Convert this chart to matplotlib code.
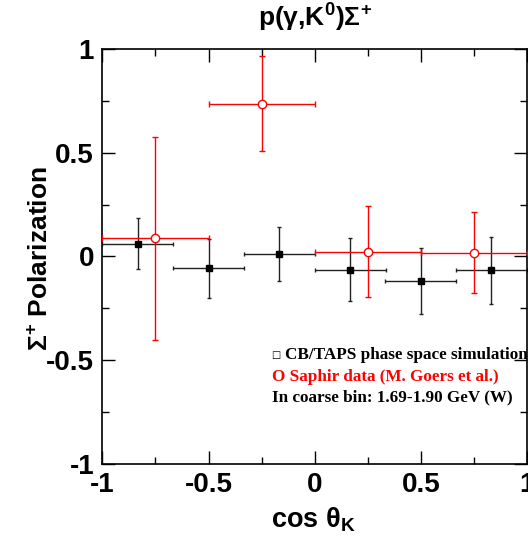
import matplotlib
matplotlib.use("Agg")
import matplotlib.pyplot as plt
from matplotlib.ticker import MultipleLocator, FixedLocator

# -------------------------- Data --------------------------

# CB/TAPS phase space simulation (6 bins)
sim_x = [-0.833, -0.5, -0.167, 0.167, 0.5, 0.833]
sim_xerr = [0.167, 0.167, 0.167, 0.167, 0.167, 0.167]
sim_y = [0.062, -0.057, 0.011, -0.063, -0.118, -0.067]
sim_yerr = [0.123, 0.141, 0.130, 0.150, 0.160, 0.160]

# Saphir data (4 bins)
saphir_x = [-0.75, -0.25, 0.25, 0.75]
saphir_xerr = [0.25, 0.25, 0.25, 0.25]
saphir_y = [0.088, 0.736, 0.023, 0.018]
saphir_yerr = [0.490, 0.230, 0.220, 0.195]

tick_vals = [-1, -0.5, 0, 0.5, 1]
tick_labels = ["-1", "-0.5", "0", "0.5", "1"]

legend_lines = [
    ("CB/TAPS phase space simulation", "black"),
    ("O Saphir data (M. Goers et al.)", "red"),
    ("In coarse bin: 1.69-1.90 GeV (W)", "black"),
]

# -------------------------- Style --------------------------

plt.rcParams["font.family"] = ["Liberation Sans", "DejaVu Sans"]
plt.rcParams["font.weight"] = "bold"
plt.rcParams["mathtext.fontset"] = "custom"
plt.rcParams["mathtext.rm"] = "Liberation Sans:bold"
plt.rcParams["mathtext.it"] = "Liberation Sans:bold"
plt.rcParams["mathtext.bf"] = "Liberation Sans:bold"
plt.rcParams["mathtext.default"] = "regular"

fig = plt.figure(figsize=(5.28, 5.44), dpi=100)
ax = fig.add_axes([0.194, 0.147, 0.804, 0.763])

ax.errorbar(sim_x, sim_y, xerr=sim_xerr, yerr=sim_yerr, fmt="s",
            color="black", ecolor="#222222", elinewidth=1.0, capsize=1.5,
            markersize=4, markerfacecolor="black", zorder=2)
ax.errorbar(saphir_x, saphir_y, xerr=saphir_xerr, yerr=saphir_yerr, fmt="o",
            color="red", ecolor="red", elinewidth=1.0, capsize=2,
            markersize=6, markerfacecolor="white", markeredgecolor="red",
            markeredgewidth=1.0, zorder=3)

ax.set_xlim(-1, 1)
ax.set_ylim(-1, 1)
ax.xaxis.set_major_locator(FixedLocator(tick_vals))
ax.xaxis.set_minor_locator(MultipleLocator(0.25))
ax.yaxis.set_major_locator(FixedLocator(tick_vals))
ax.yaxis.set_minor_locator(MultipleLocator(0.25))
ax.set_xticklabels(tick_labels)
ax.set_yticklabels(tick_labels)

ax.tick_params(which="both", direction="in", top=True, right=True, width=1.0)
ax.tick_params(which="major", length=9.5, labelsize=20)
ax.tick_params(which="minor", length=5)
ax.tick_params(axis="x", which="major", pad=6)
ax.tick_params(axis="y", which="major", pad=6)
for s in ax.spines.values():
    s.set_linewidth(1.2)

# title, placed by baseline
ax.text(0.5, 1.053, r"p($\gamma$,K$^{0}$)$\Sigma^{+}$", transform=ax.transAxes,
        fontsize=19, fontweight="bold", ha="center", va="baseline")

ax.set_xlabel(r"cos $\theta_{K}$", fontsize=19.5, fontweight="bold")
ax.xaxis.set_label_coords(0.496, -0.152)
ax.xaxis.label.set_verticalalignment("baseline")

ax.set_ylabel(r"$\Sigma^{+}$ Polarization", fontsize=19, fontweight="bold")
ax.yaxis.set_label_coords(-0.128, 0.494)
ax.yaxis.label.set_verticalalignment("baseline")

# legend-like text block
ax.text(-0.205, -0.487, "\u25a1", fontsize=7, color="black",
        family=["DejaVu Sans"], va="baseline", ha="left", clip_on=True)
tx = [-0.141, -0.202, -0.202]
ty = [-0.494, -0.601, -0.697]
for (txt, col), x0, y0 in zip(legend_lines, tx, ty):
    ax.text(x0, y0, txt, fontsize=12.3, color=col, family=["Liberation Serif"],
            fontweight="bold", va="baseline", ha="left", clip_on=True)

fig.savefig("out.png", dpi=100)
